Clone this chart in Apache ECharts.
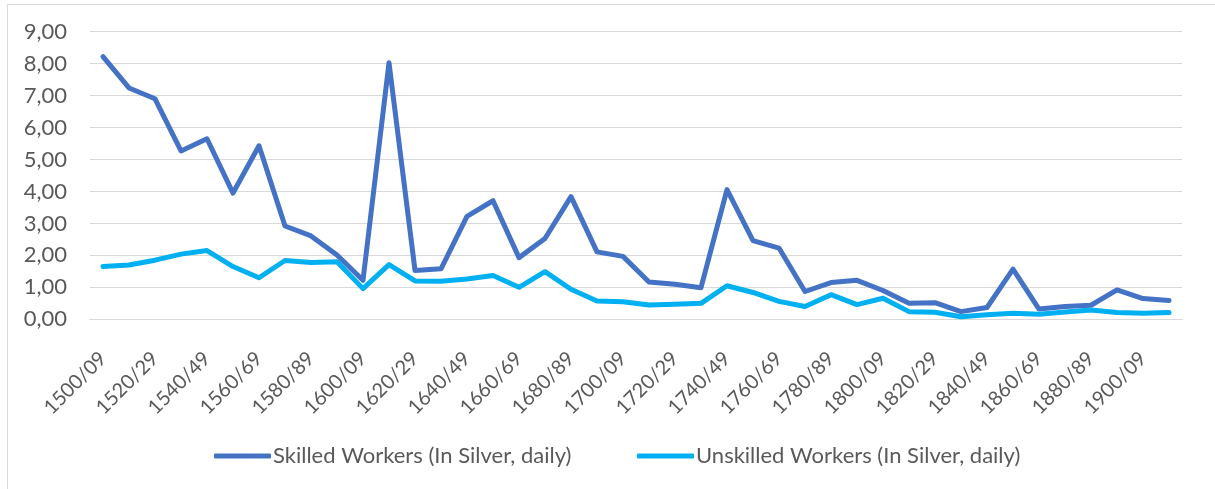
<!DOCTYPE html>
<html>
<head>
<meta charset="utf-8">
<script src="https://cdn.jsdelivr.net/npm/echarts@6/dist/echarts.min.js"></script>
<style>
  html, body { margin: 0; padding: 0; background: #ffffff; }
  #chart { width: 1215px; height: 489px; }
</style>
</head>
<body>
<div id="chart"></div>
<script>
// Decades, 1500/09 through 1910/19
const decades = [
  '1500/09','1510/19','1520/29','1530/39','1540/49','1550/59','1560/69','1570/79',
  '1580/89','1590/99','1600/09','1610/19','1620/29','1630/39','1640/49','1650/59',
  '1660/69','1670/79','1680/89','1690/99','1700/09','1710/19','1720/29','1730/39',
  '1740/49','1750/59','1760/69','1770/79','1780/89','1790/99','1800/09','1810/19',
  '1820/29','1830/39','1840/49','1850/59','1860/69','1870/79','1880/89','1890/99',
  '1900/09','1910/19'
];

// Daily wages, in silver
const skilled = [
  8.22, 7.24, 6.90, 5.27, 5.65, 3.95, 5.43, 2.92, 2.61, 2.01,
  1.22, 8.03, 1.53, 1.58, 3.22, 3.71, 1.93, 2.53, 3.84, 2.11,
  1.97, 1.17, 1.10, 0.99, 4.06, 2.46, 2.23, 0.87, 1.15, 1.22,
  0.90, 0.50, 0.52, 0.24, 0.37, 1.57, 0.32, 0.40, 0.44, 0.92,
  0.65, 0.59
];
const unskilled = [
  1.65, 1.70, 1.85, 2.04, 2.15, 1.65, 1.30, 1.84, 1.78, 1.80,
  0.96, 1.71, 1.20, 1.19, 1.26, 1.37, 1.00, 1.49, 0.94, 0.57,
  0.55, 0.45, 0.47, 0.50, 1.05, 0.84, 0.56, 0.40, 0.77, 0.46,
  0.66, 0.24, 0.22, 0.08, 0.14, 0.19, 0.16, 0.23, 0.29, 0.21,
  0.19, 0.21
];

const seriesNames = ['Skilled Workers (In Silver, daily)', 'Unskilled Workers (In Silver, daily)'];
const seriesColors = ['#4472C4', '#00B0F0'];

const FONT = 'Lato, "Open Sans", sans-serif';
const TEXT = '#595959';
const GRID = '#D9D9D9';

const chart = echarts.init(document.getElementById('chart'), null, { renderer: 'canvas' });

const legendBase = {
  orient: 'horizontal',
  top: 440,
  icon: 'roundRect',
  itemWidth: 57,
  itemHeight: 5,
  itemGap: 0,
  textStyle: { fontFamily: FONT, fontSize: 22, color: TEXT, padding: [0, 0, 0, -3] }
};

chart.setOption({
  animation: false,
  backgroundColor: '#ffffff',
  graphic: [{
    type: 'rect',
    shape: { x: 7.5, y: 4.5, width: 1400, height: 600 },
    style: { fill: 'none', stroke: GRID, lineWidth: 1 },
    silent: true,
    z: -10
  }],
  legend: [
    Object.assign({}, legendBase, { left: 209, data: [seriesNames[0]] }),
    Object.assign({}, legendBase, { left: 632, data: [seriesNames[1]] })
  ],
  grid: { left: 90, right: 33, top: 31.7, bottom: 169.7, containLabel: false },
  xAxis: {
    type: 'category',
    data: decades,
    boundaryGap: true,
    axisTick: { show: false },
    axisLine: { show: true, lineStyle: { color: GRID, width: 1 } },
    axisLabel: {
      interval: 1,
      rotate: 45,
      margin: 36,
      fontFamily: FONT,
      fontSize: 20,
      color: TEXT
    }
  },
  yAxis: {
    type: 'value',
    min: 0,
    max: 9,
    interval: 1,
    axisLine: { show: false },
    axisTick: { show: false },
    splitLine: { lineStyle: { color: GRID, width: 1 } },
    axisLabel: {
      margin: 23,
      fontFamily: FONT,
      fontSize: 22,
      color: TEXT,
      formatter: v => v.toFixed(2).replace('.', ',')
    }
  },
  series: [
    {
      name: seriesNames[0],
      type: 'line',
      data: skilled,
      showSymbol: false,
      symbol: 'none',
      color: seriesColors[0],
      lineStyle: { width: 5, color: seriesColors[0], cap: 'round', join: 'round' }
    },
    {
      name: seriesNames[1],
      type: 'line',
      data: unskilled,
      showSymbol: false,
      symbol: 'none',
      color: seriesColors[1],
      lineStyle: { width: 5, color: seriesColors[1], cap: 'round', join: 'round' }
    }
  ]
});
</script>
</body>
</html>
